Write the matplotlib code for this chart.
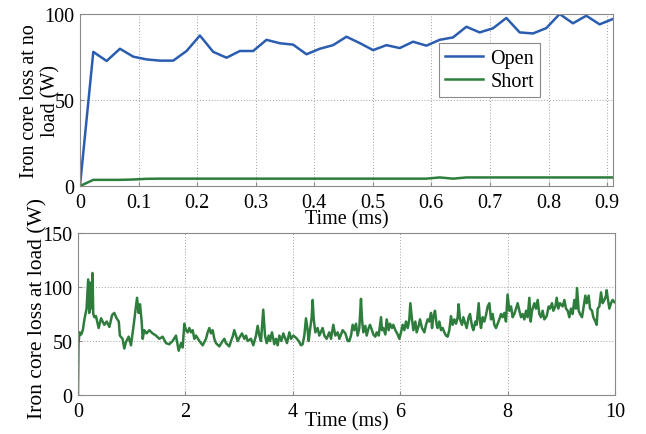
import numpy as np
import matplotlib
matplotlib.use("Agg")
import matplotlib.pyplot as plt

plt.rcParams['font.family'] = ['Liberation Serif', 'DejaVu Serif']
plt.rcParams['font.size'] = 14.5

# no-load iron core loss, sampled every 0.02275 ms
t_noload = np.linspace(0, 0.91, 41)
open_w = [0, 78, 72.7, 79.8, 75.2, 73.6, 72.9, 72.9, 78.5, 87.5,
          78, 74.6, 78.5, 78.5, 85, 83, 82.2, 76.6, 79.8, 81.9,
          86.8, 83.1, 79, 81.9, 80.2, 83.9, 81.6, 85, 86.4, 92.6,
          89.3, 91.7, 97.7, 89.3, 88.7, 91.8, 100, 94.6, 99, 94, 97.1]
short_w = [0, 3.6, 3.6, 3.6, 3.8, 4.2, 4.3, 4.3, 4.3, 4.3,
           4.3, 4.3, 4.3, 4.3, 4.3, 4.3, 4.3, 4.3, 4.3, 4.3,
           4.3, 4.3, 4.3, 4.3, 4.3, 4.3, 4.3, 5.0, 4.3, 5.0,
           5.0, 5.0, 5.0, 5.0, 5.0, 5.0, 5.0, 5.0, 5.0, 5.0, 5.0]

# iron core loss under load
t_load = [0.0, 0.01, 0.03, 0.06, 0.09, 0.12, 0.16, 0.19, 0.21, 0.225, 0.245, 0.27, 0.285,
          0.305, 0.335, 0.385, 0.43, 0.49, 0.535, 0.585, 0.635, 0.675, 0.72, 0.76, 0.78,
          0.83, 0.863, 0.894, 0.944, 0.987, 1.03, 1.068, 1.10, 1.13, 1.155, 1.186, 1.205,
          1.235, 1.278, 1.328, 1.39, 1.453, 1.515, 1.577, 1.639, 1.70, 1.763, 1.825, 1.875,
          1.918, 1.95, 1.98, 2.011, 2.042, 2.073, 2.104, 2.136, 2.167, 2.198, 2.26, 2.322,
          2.384, 2.415, 2.446, 2.477, 2.508, 2.539, 2.57, 2.632, 2.694, 2.725, 2.756, 2.818,
          2.85, 2.88, 2.911, 2.942, 2.974, 3.005, 3.054, 3.098, 3.129, 3.16, 3.222, 3.265,
          3.315, 3.346, 3.377, 3.408, 3.45, 3.483, 3.514, 3.551, 3.576, 3.613, 3.656, 3.687,
          3.718, 3.75, 3.787, 3.824, 3.861, 3.892, 3.936, 3.967, 4.01, 4.06, 4.11, 4.153,
          4.184, 4.215, 4.246, 4.277, 4.296, 4.32, 4.352, 4.37, 4.39, 4.42, 4.463, 4.494,
          4.556, 4.588, 4.631, 4.68, 4.712, 4.755, 4.792, 4.836, 4.867, 4.929, 4.979, 5.022,
          5.053, 5.084, 5.115, 5.146, 5.177, 5.208, 5.239, 5.27, 5.289, 5.314, 5.351, 5.376,
          5.413, 5.438, 5.475, 5.5, 5.537, 5.562, 5.6, 5.643, 5.661, 5.686, 5.724, 5.748,
          5.786, 5.81, 5.848, 5.872, 5.91, 5.953, 5.984, 6.015, 6.046, 6.077, 6.108, 6.14,
          6.17, 6.189, 6.22, 6.245, 6.282, 6.307, 6.344, 6.369, 6.406, 6.45, 6.481, 6.512,
          6.543, 6.574, 6.593, 6.617, 6.648, 6.679, 6.698, 6.729, 6.76, 6.791, 6.822, 6.853,
          6.884, 6.915, 6.946, 6.977, 7.008, 7.04, 7.07, 7.089, 7.114, 7.151, 7.176, 7.213,
          7.238, 7.275, 7.3, 7.337, 7.362, 7.4, 7.424, 7.462, 7.486, 7.505, 7.536, 7.567,
          7.598, 7.629, 7.66, 7.691, 7.722, 7.753, 7.784, 7.815, 7.846, 7.877, 7.908, 7.94,
          7.97, 8.0, 8.033, 8.064, 8.095, 8.126, 8.157, 8.188, 8.219, 8.25, 8.28, 8.312,
          8.343, 8.374, 8.405, 8.43, 8.455, 8.498, 8.529, 8.56, 8.591, 8.622, 8.653, 8.684,
          8.728, 8.765, 8.79, 8.827, 8.852, 8.89, 8.914, 8.945, 8.976, 9.026, 9.057, 9.088,
          9.119, 9.15, 9.181, 9.212, 9.243, 9.274, 9.293, 9.324, 9.349, 9.386, 9.411, 9.448,
          9.473, 9.51, 9.535, 9.572, 9.597, 9.634, 9.659, 9.678, 9.709, 9.74, 9.77, 9.802,
          9.833, 9.845, 9.864, 9.895, 9.926, 9.957, 9.988]
load_w = [0, 48, 58, 56, 60, 70, 80, 107, 76, 104, 80, 113, 75,
          72, 73, 62, 71, 65, 68, 63, 74, 76, 71, 68, 55,
          52, 43, 49, 54, 46, 62, 77, 90, 76, 84, 68, 52,
          60, 57, 60, 57, 55, 52, 54, 48, 47, 50, 55, 41,
          48, 44, 66, 60, 58, 62, 58, 60, 52, 55, 50, 46,
          52, 58, 62, 57, 60, 52, 48, 45, 50, 52, 48, 45,
          50, 54, 60, 55, 50, 53, 57, 52, 55, 50, 52, 46,
          55, 64, 55, 50, 79, 55, 48, 55, 50, 58, 47, 52,
          46, 55, 50, 57, 52, 48, 58, 52, 55, 53, 50, 46,
          47, 55, 71, 60, 50, 60, 72, 88, 70, 58, 62, 55,
          62, 55, 52, 58, 52, 65, 55, 58, 52, 60, 57, 50,
          50, 55, 65, 60, 66, 55, 62, 89, 70, 58, 64, 55,
          62, 65, 60, 56, 54, 58, 55, 72, 60, 62, 56, 70,
          60, 66, 62, 65, 60, 56, 52, 58, 65, 60, 68, 62,
          70, 85, 70, 60, 68, 58, 64, 70, 62, 58, 65, 70,
          68, 76, 62, 72, 78, 65, 62, 68, 60, 62, 58, 55,
          54, 60, 73, 65, 70, 66, 72, 84, 70, 65, 72, 66,
          62, 72, 75, 64, 60, 68, 65, 85, 68, 62, 72, 68,
          74, 82, 85, 70, 75, 65, 62, 66, 70, 75, 72, 76,
          68, 93, 78, 82, 72, 75, 80, 85, 78, 72, 75, 70,
          78, 72, 90, 68, 78, 85, 80, 88, 75, 72, 78, 70,
          73, 82, 80, 85, 78, 82, 90, 80, 85, 82, 88, 80,
          78, 72, 80, 75, 88, 80, 99, 78, 75, 72, 80, 92,
          85, 92, 80, 78, 72, 68, 65, 80, 82, 95, 85, 88,
          92, 97, 90, 80, 85, 88, 86]

blue = '#2a5db0'
green = '#2e7d3c'
grey = '#8a8a8a'

fig = plt.figure(figsize=(6.46, 4.35), dpi=100)
ax1 = fig.add_axes([0.1238, 0.570, 0.8250, 0.3955])
ax2 = fig.add_axes([0.1207, 0.0897, 0.8313, 0.3724])

ax1.plot(t_noload, open_w, color=blue, lw=1.8, label='Open')
ax1.plot(t_noload, short_w, color=green, lw=1.8, label='Short')
ax1.set_xlim(0, 0.91)
ax1.set_ylim(0, 100)
ax1.set_xticks(np.arange(0, 0.95, 0.1))
ax1.set_xticklabels(['0', '0.1', '0.2', '0.3', '0.4', '0.5', '0.6', '0.7', '0.8', '0.9'])
ax1.set_yticks([0, 50, 100])
ax1.set_xlabel('Time (ms)', labelpad=-2)
ax1.set_ylabel('Iron core loss at no\nload (W)', linespacing=1.15)
ax1.yaxis.set_label_coords(-0.0375, 0.5)
leg = ax1.legend(loc='upper left', bbox_to_anchor=(0.6735, 0.831), fancybox=False,
                 edgecolor=grey, handlelength=1.9, borderpad=0.3, labelspacing=0.2,
                 handletextpad=0.35, borderaxespad=0, framealpha=1)
leg.get_frame().set_linewidth(0.8)

ax2.plot(t_load, load_w, color=green, lw=1.8)
ax2.set_xlim(0, 10)
ax2.set_ylim(0, 150)
ax2.set_xticks([0, 2, 4, 6, 8, 10])
ax2.set_yticks([0, 50, 100, 150])
ax2.set_xlabel('Time (ms)', labelpad=-7)
ax2.set_ylabel('Iron core loss at load (W)', fontsize=15.5)
ax2.yaxis.set_label_coords(-0.056, 0.54)

for ax in (ax1, ax2):
    ax.grid(True, linestyle=(0, (1, 2)), color='#a0a0a0', linewidth=0.7)
    ax.tick_params(direction='in', length=3, color=grey, pad=4)
    ax.tick_params(axis='x', pad=5)
    for s in ax.spines.values():
        s.set_color(grey)
        s.set_linewidth(0.8)

fig.savefig('out.png', dpi=100)
